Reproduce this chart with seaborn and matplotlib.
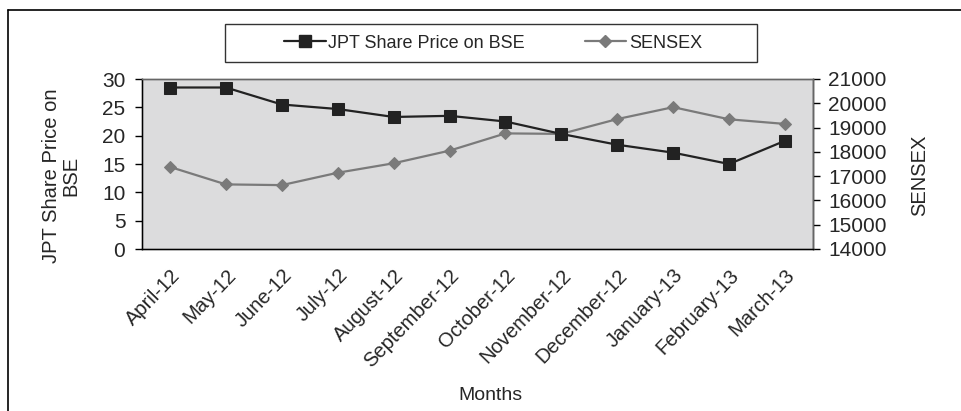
import numpy as np
import pandas as pd
import matplotlib
matplotlib.use("Agg")
import matplotlib.pyplot as plt
import seaborn as sns
from matplotlib.lines import Line2D
from matplotlib.patches import Rectangle
from matplotlib.transforms import ScaledTranslation

# Data
months = ["April-12", "May-12", "June-12", "July-12", "August-12", "September-12",
          "October-12", "November-12", "December-12", "January-13", "February-13", "March-13"]
jpt_price = [28.5, 28.5, 25.5, 24.7, 23.3, 23.5, 22.5, 20.3, 18.4, 17.0, 15.0, 19.1]
sensex = [17380, 16660, 16630, 17140, 17530, 18050, 18760, 18740, 19350, 19840, 19340, 19150]

df = pd.DataFrame({"idx": np.arange(len(months)), "month": months,
                   "jpt": jpt_price, "sensex": sensex})

sns.set_style("white")
plt.rcParams["font.family"] = ["Liberation Sans", "DejaVu Sans"]

W, H = 961, 411
fig = plt.figure(figsize=(W / 100, H / 100), dpi=100)
ax = fig.add_axes([142 / W, 1 - 249 / H, 671 / W, 170 / H])

black = "#222222"
grey = "#7a7a7a"

ax2 = ax.twinx()
sns.lineplot(data=df, x="idx", y="jpt", ax=ax, color=black, lw=1.6,
             marker="s", markersize=8, markeredgecolor=black, legend=False)
sns.lineplot(data=df, x="idx", y="sensex", ax=ax2, color=grey, lw=1.6,
             marker="D", markersize=6.5, markeredgecolor=grey, legend=False)
# black series drawn above the grey one; grey plot area comes from ax2
ax.set_zorder(ax2.get_zorder() + 1)
ax.patch.set_visible(False)
ax2.patch.set_visible(True)
ax2.patch.set_facecolor("#dcdcdd")

ax.set_xlim(-0.5, len(months) - 0.5)
ax.set_ylim(0, 30)
ax.set_yticks(range(0, 31, 5))
ax2.set_ylim(14000, 21000)
ax2.set_yticks(range(14000, 21001, 1000))

ax.set_xticks(np.arange(-0.5, len(months), 1.0))
ax.set_xticklabels([])
ax.set_xticks(np.arange(len(months)), minor=True)
ax.set_xticklabels(months, minor=True, rotation=46, ha="right", rotation_mode="anchor",
                   fontsize=14.5)
for lab in ax.get_xticklabels(minor=True):
    lab.set_transform(lab.get_transform() + ScaledTranslation(0.06, 0, fig.dpi_scale_trans))
ax.tick_params(axis="x", which="major", direction="out", length=6, width=1, color="black")
ax.tick_params(axis="x", which="minor", length=0, pad=12)
ax.tick_params(axis="y", direction="out", length=5, width=1, color="black", labelsize=15, pad=7)
ax2.tick_params(axis="y", direction="out", length=5, width=1, color="black", labelsize=15, pad=6)

for a in (ax, ax2):
    for s in a.spines.values():
        s.set_color("#666666")
        s.set_linewidth(1)
ax.spines["left"].set_color("black")
ax.spines["bottom"].set_color("black")
ax2.spines["right"].set_color("black")

ax.set_xlabel("Months", fontsize=14)
ax.xaxis.set_label_coords((490 - 142) / 671, (249 - 387) / 170)
ax.set_ylabel("JPT Share Price on\nBSE", fontsize=14.5, linespacing=1.0)
ax.yaxis.set_label_coords((80 - 142) / 671, (249 - 176) / 170)
ax2.set_ylabel("SENSEX", fontsize=14.5)
ax2.yaxis.set_label_coords((910 - 142) / 671, (249 - 175) / 170)

# legend with its own wide Excel-style box
handles = [Line2D([], [], color=black, marker="s", markersize=8, lw=1.6),
           Line2D([], [], color=grey, marker="D", markersize=6.5, lw=1.6)]
fig.legend(handles, ["JPT Share Price on BSE", "SENSEX"], ncol=2,
           loc="center", bbox_to_anchor=(493 / W, 1 - 43 / H),
           frameon=False, fontsize=13, handlelength=2.3,
           handletextpad=0.15, columnspacing=3.3)
fig.add_artist(Rectangle((225 / W, 1 - 62 / H), 532 / W, 38 / H, transform=fig.transFigure,
                         facecolor="none", edgecolor="#333333", lw=1))

# outer chart border (cropped on right and bottom)
fig.add_artist(Line2D([8 / W, 1.0], [1 - 10 / H, 1 - 10 / H], color="black", lw=1.2))
fig.add_artist(Line2D([8 / W, 8 / W], [0, 1 - 10 / H], color="black", lw=1.2))

fig.savefig("out.png", dpi=100, facecolor="white")
